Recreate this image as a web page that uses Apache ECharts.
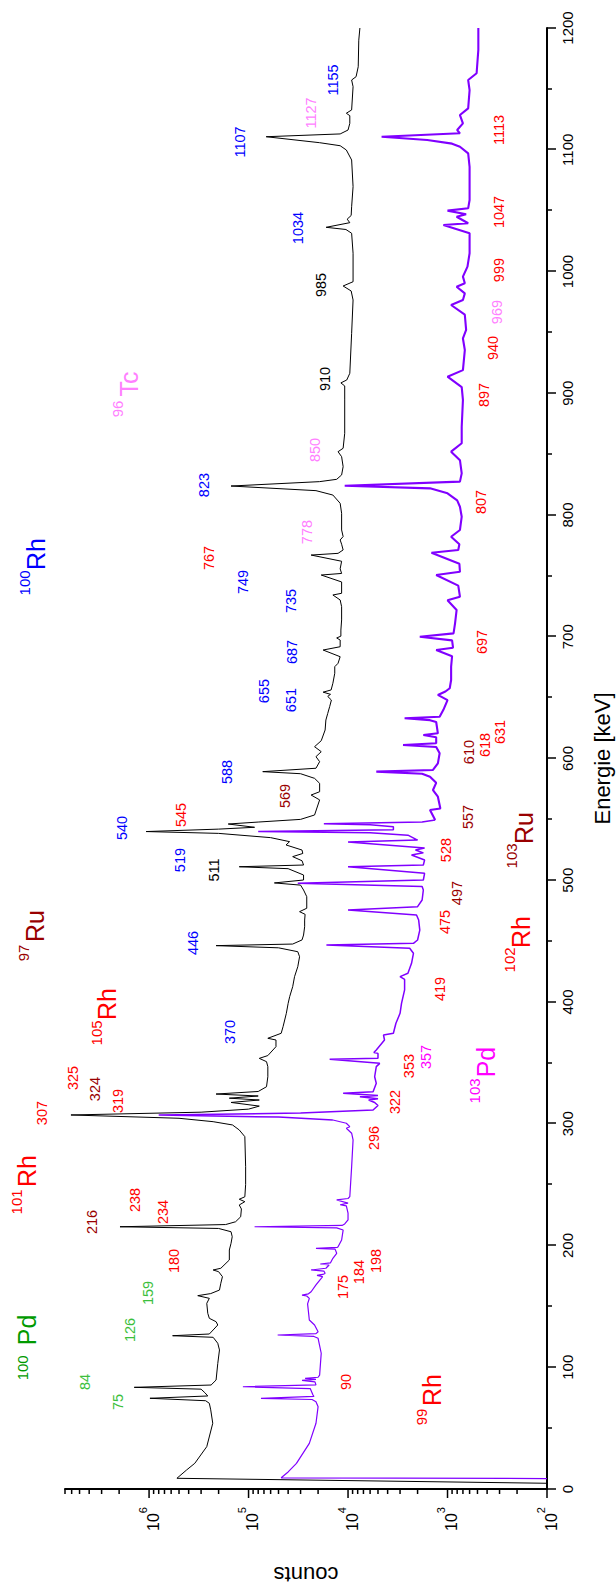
<!DOCTYPE html>
<html><head><meta charset="utf-8">
<script src="https://cdn.jsdelivr.net/npm/echarts@6/dist/echarts.min.js"></script>
<style>
html,body{margin:0;padding:0;width:616px;height:1590px;overflow:hidden;background:#fff;}
#chart{position:absolute;left:0;top:0;width:1590px;height:616px;transform-origin:0 0;transform:translate(0px,1590px) rotate(-90deg);}
</style></head><body><div id="chart"></div>
<script>
// ---- data: [energy keV, counts] ----
const blackSpectrum = [
[4.7,100],[8.8,525000],[15.6,420000],[21.1,347000],[34.8,263000],[54,229000],[65,240000],[70.4,248000],[72.5,270000],
[74.5,980000],[76.4,257000],[79.1,275000],[82,300000],[83.5,1410000],[85.4,238000],[89.5,212000],[103,204000],[114.2,196000],
[119.7,204000],[124.6,227000],[125.9,580000],[127.3,248000],[130.6,227000],[134.7,204000],[137.4,212000],[140.2,248000],
[144.3,257000],[152.5,263000],[156.6,248000],[158.8,324000],[160.5,240000],[163.4,196000],[169,190000],[174.4,183000],
[178.5,200000],[179.9,227000],[181.3,190000],[188.1,156000],[196.3,156000],[201.8,150000],[207.2,146000],[211.3,150000],
[214,200000],[215.4,1960000],[217.2,170000],[219.5,135000],[223.6,120000],[230,118000],[233.3,124000],[236,109000],
[238,124000],[240,109000],[250,107000],[264.7,107000],[289.4,109000],[294.9,124000],[299,145000],[301.7,227000],
[304.5,500000],[307.2,6100000],[309.5,300000],[312,100000],[314.5,78000],[317.5,150000],[319.5,78000],[321,156000],
[322.8,80000],[324.4,212000],[326.5,80000],[330.4,66000],[338.6,64000],[346.9,64000],[351,66000],[353.7,78000],[356,64000],
[363.3,53000],[368.8,53000],[370.2,64000],[374.3,47000],[379.7,45000],[390.7,41700],[398.9,40000],[404.4,38600],
[412.6,36000],[420.8,34500],[429,32000],[437.2,30700],[441.3,32000],[444.5,50000],[446.3,212000],[447.6,36000],[451,29000],
[455,28000],[461.8,27300],[467.3,27300],[472,27000],[474.2,30700],[477,26000],[486.5,26000],[492,28000],[496,30000],
[497.8,55000],[500.2,28000],[504.3,28000],[509.5,40000],[511.1,124000],[512.5,28000],[516,29000],[519.4,36000],[522,28500],
[524.8,29000],[529,42000],[531.7,38700],[535,60000],[538.5,200000],[540,1070000],[542,200000],[543.5,87000],[546.2,160000],
[547.8,80000],[550,30000],[553.6,21700],[566,19300],[570,23500],[572.7,19300],[579.6,19300],[583.7,21700],[587.5,30000],
[589.2,72000],[592,21000],[597.4,19300],[601.5,21000],[605.6,18600],[609.7,21700],[614.6,18600],[623.4,17000],[631.6,16700],
[637,16000],[642.6,15300],[648,14700],[651,16000],[652.7,15000],[654.5,17800],[656.3,14800],[661.8,14200],[670,13600],
[675.4,13600],[678.2,12600],[683.6,12000],[689.1,17800],[691.8,12000],[697.3,12000],[699,13000],[700.5,11800],[705.5,11800],
[713.8,11600],[724.7,11600],[730.2,12000],[734.3,14200],[735.7,11600],[745,11600],[750.7,18600],[752,11600],[755.8,12000],
[762,11600],[767.1,23500],[768.5,12600],[771.3,11200],[776,11600],[779.5,12000],[782.3,11200],[787.7,11600],[801.4,11600],
[809.6,12000],[816.4,14200],[820,21000],[823.8,150000],[827.4,19300],[829.3,13000],[832.9,11600],[839.7,11200],[847.9,11600],
[852,12600],[854.8,11200],[867.1,10800],[894.5,10800],[906,10800],[908.5,11800],[910.9,10300],[916.4,9600],[949.2,9200],
[976.6,8900],[984,9300],[988.1,11200],[991.6,8900],[1015,8900],[1031.4,9200],[1034.5,10500],[1036.3,16600],[1040.1,9600],
[1043,10200],[1046,9300],[1053.2,9200],[1069.7,8900],[1091.6,9200],[1099.8,10400],[1103.3,12000],[1105.8,19300],
[1110.7,66500],[1113,12000],[1116.2,10000],[1121.7,9600],[1128,9600],[1130,10400],[1132.7,9200],[1151.8,8900],[1157.3,9200],
[1160,8300],[1168.2,7900],[1190,7800],[1200,7600]
];
const purpleSpectrum = [
[8.6,100],[9.2,47000],[14,40000],[21.1,33000],[37.5,24500],[54,21000],[67.6,20000],[71.7,21000],[73.5,23000],[74.5,75000],
[76,22000],[77.2,22500],[82.5,24000],[84,114000],[85.5,21000],[88,21500],[89.2,29000],[90,21000],[90.8,27000],[91.8,20000],
[93.6,19300],[111.5,18600],[123.8,20000],[125.3,22000],[126.5,51000],[127.6,21000],[129.2,20000],[134.7,21700],[138.8,24500],
[145.6,25000],[152,25500],[156.6,24500],[158.5,26000],[159.3,29000],[160.3,25000],[162,23500],[167.6,21000],[173,18600],
[174.5,18000],[175.5,20500],[176.5,17500],[177.2,17000],[179,17500],[179.9,23500],[181.3,16700],[184,15500],[184.8,19000],
[185.8,15000],[189.5,14200],[193.6,13000],[197,13500],[197.7,21000],[198.5,12800],[199,12600],[204.5,11600],[212.7,11200],
[214.5,13000],[215.4,87000],[216.5,11500],[217.7,10800],[221,10000],[226.5,10000],[232.5,10400],[233.5,12000],[234.8,10000],
[237.4,13000],[238.6,10000],[240.1,9600],[264.7,9200],[286.7,8900],[292.2,9200],[296.3,10400],[297.6,9600],[300.4,10400],
[303.1,14200],[305.5,50000],[307.2,800000],[308.8,30000],[311.3,5600],[315,5000],[317.5,5400],[319.5,6200],[320.5,5000],
[322.2,7600],[323.3,5000],[325,11200],[326.3,5600],[333.2,5200],[338.6,5400],[346.9,5200],[349.6,4800],[352.9,15300],
[353.9,5000],[357.8,5000],[358.5,5500],[360.6,5200],[368.8,4300],[372.9,4400],[374.3,3500],[378.4,3400],[382.5,3300],
[390.7,3000],[398.9,2900],[409.9,2700],[418.5,2700],[420.8,3000],[423.6,2500],[431.8,2300],[440,2200],[444.1,2400],
[446.8,16500],[448.2,2200],[450.9,2000],[459.1,1900],[467.3,1950],[471.5,2050],[475.6,10000],[478.3,2000],[483.8,1800],
[492,1750],[494.8,1800],[497.5,32000],[500.2,1750],[505.7,1700],[511.1,10000],[512.5,1750],[516.6,1700],[520.7,2300],
[522.5,1750],[524.8,2100],[526.5,1700],[531.5,10000],[533,2000],[537,2500],[539,6000],[540,80000],[541.5,3500],[544,3500],
[545.5,6000],[546.5,17500],[547.8,1800],[549.5,1330],[557.7,1500],[559,1180],[568.6,1250],[574.1,1400],[580,1300],[585,1500],
[587.5,1800],[589.2,5200],[590.6,1400],[596,1250],[604.3,1200],[609.5,1300],[611.1,2800],[612.5,1300],[617.5,1300],
[619.3,1750],[620.7,1250],[630,1300],[631.5,1500],[633,2700],[634.3,1200],[640,1100],[648,1000],[652.2,1250],[655,1050],
[657.7,950],[664.5,920],[675.4,920],[684,900],[689.1,1300],[691,880],[697,900],[700,1900],[702.8,870],[711,840],[722,810],
[730,1000],[732.9,750],[742,780],[750.7,1300],[753.4,750],[760,760],[769,1450],[771.3,780],[776,760],[782.1,920],[787.7,750],
[798.6,720],[806.8,750],[812,800],[817.8,1000],[821.9,1500],[824,10800],[827.4,750],[834.2,720],[845,750],[852,920],
[858.9,720],[872.5,720],[894.5,700],[905,720],[913.6,1000],[919,700],[935.5,670],[945,700],[952,650],[964.5,670],[972.5,920],
[976.6,700],[982,670],[987.5,810],[990.3,670],[995.8,700],[1004,630],[1015,600],[1031.4,600],[1038.2,1100],[1039.6,620],
[1045,810],[1047,650],[1050,1000],[1051.9,620],[1058.7,600],[1086,600],[1097,620],[1102.5,750],[1105,900],[1108,1600],
[1110.7,4600],[1113.5,750],[1116.2,800],[1121.7,700],[1128.5,750],[1134,620],[1149,600],[1157.3,620],[1162.8,510],
[1182,490],[1200,490]
];

// peak annotations
const peakText = ['1155','1127','1107','1034','985','910','850','823','767','778','749','735','687','655','651','588','569',
 '545','540','519','511','446','370','325','324','319','307','296','238','234','216','180','159','126','84','75',
 '175','184','198','90','322','353','357','419','475','497','528','557','610','618','631','697','807','897','940','969',
 '999','1047','1113'];
const peakE = [1157.3,1130.2,1106.4,1035.7,988.9,911.7,853.4,824.6,764.7,786,745,729.4,687.5,655.4,648,588.9,569.2,
 553.6,542.9,516.6,508.4,448.5,375.4,337.6,328.5,318.7,308.8,288.3,237.4,227.5,219.3,187.3,161,130.6,87.9,71.5,
 165.9,178.2,187.3,87.9,317.9,347.4,354.8,410.7,465.7,489.5,524.8,552,605.3,611.1,621.8,695.7,810.7,898.6,937.2,966.7,
 1001.2,1048.9,1116.2];
const peakC = [1.43e4,2.38e4,1.21e5,3.22e4,1.89e4,1.72e4,2.17e4,2.78e5,2.48e5,2.61e4,1.15e5,3.78e4,3.7e4,6.92e4,3.78e4,1.63e5,4.35e4,
 4.74e5,1.86e6,4.85e5,2.2e5,3.59e5,1.52e5,5.79e6,3.48e6,2.04e6,1.19e7,5.52e3,1.38e6,7.19e5,3.73e6,5.57e5,1.02e6,1.55e6,4.39e6,2.04e6,
 1.13e4,7.82e3,5.27e3,1.06e4,3.4e3,2.45e3,1.66e3,1.2e3,1.06e3,806,1.04e3,625,610,421,297,452,462,431,350,319,
 304,304,304];
const peakGroup = ['blue','pink','blue','blue','black','black','pink','blue','red','pink','blue','blue','blue','blue','blue','blue','dkred',
 'red','blue','blue','black','blue','blue','red','dkred','red','red','red','red','red','dkred','red','green','green','green','green',
 'red','red','red','red','red','red','mag','red','red','dkred','red','dkred','dkred','red','red','red','red','red','red','pink',
 'red','red','red'];

// isotope names
const isoMass = ['100','101','105','97','100','96','99','103','102','103'];
const isoSym  = ['Pd','Rh','Rh','Ru','Rh','Tc','Rh','Pd','Rh','Ru'];
const isoGroup = ['dkgreen','red','red','dkred','blue','pink','red','mag','red','dkred'];
const isoSymE = [130.6,261.2,398.4,462.4,768,907.6,81.3,350.7,457.5,542.9];
const isoSymC = [1.69e7,1.69e7,2.64e6,1.40e7,1.37e7,1.58e6,1.44e3,411,183,171];
const isoMassE = [99.5,235.8,374.6,440.3,744.2,887.1,59.2,327,434.6,520];
const isoMassC = [1.89e7,2.17e7,3.40e6,1.81e7,1.77e7,2.09e6,1.82e3,531,236,225];

// counts axis ticks (log decades and their sub-divisions)
const countMajorTicks = [1e2,1e3,1e4,1e5,1e6];
const countMinorTicks = [2e2,3e2,4e2,5e2,6e2,7e2,8e2,9e2,2e3,3e3,4e3,5e3,6e3,7e3,8e3,9e3,2e4,3e4,4e4,5e4,6e4,7e4,8e4,9e4,
 2e5,3e5,4e5,5e5,6e5,7e5,8e5,9e5,2e6,3e6,4e6,5e6,6e6,7e6];

// ---- styles ----
const FONT = '"Liberation Sans", Arial, Helvetica, sans-serif';
const groupColor = {red:'#ff0000', dkred:'#990000', blue:'#0000ff', pink:'#ff80ff', mag:'#ff00ff', green:'#3cbf3c', dkgreen:'#009a00', black:'#000000'};

function textSeries(texts, es, cs, groups, size) {
  return {
    type:'custom', silent:true, clip:false, z:5,
    data: texts.map((t,i)=>[es[i], cs[i], i]),
    encode:{x:0, y:1},
    renderItem:function(params, api){
      const i = api.value(2);
      const p = api.coord([api.value(0), api.value(1)]);
      return {type:'text', x:p[0], y:p[1], style:{text:texts[i], fill:groupColor[groups[i]], fontSize:size, fontFamily:FONT, align:'center', verticalAlign:'middle'}};
    }
  };
}
function tickSeries(vals, len) {
  return {
    type:'custom', silent:true, clip:false, z:4,
    data: vals.map(v=>[0, v]),
    encode:{x:0, y:1},
    renderItem:function(params, api){
      const p = api.coord([0, api.value(1)]);
      return {type:'line', shape:{x1:p[0], y1:p[1], x2:p[0]-len, y2:p[1]}, style:{stroke:'#000', lineWidth:1.5}};
    }
  };
}
function lineSeries(data, color, width) {
  return {type:'line', data:data, showSymbol:false, symbol:'none', lineStyle:{color:color, width:width}, silent:true};
}

const chart = echarts.init(document.getElementById('chart'), null, {renderer:'svg', width:1590, height:616});
chart.setOption({
  animation:false,
  backgroundColor:'#ffffff',
  grid:{left:101, right:28, top:65, bottom:69, containLabel:false, outerBoundsMode:'none'},
  xAxis:{
    type:'value', min:0, max:1200, interval:100,
    axisLine:{show:true, onZero:false, lineStyle:{color:'#000', width:2}},
    axisTick:{show:true, length:9, lineStyle:{color:'#000', width:1.5}},
    minorTick:{show:true, splitNumber:2, length:5, lineStyle:{color:'#000', width:1.5}},
    axisLabel:{color:'#000', fontSize:15, fontFamily:FONT, margin:13, formatter:function(v){ return String(v); }},
    splitLine:{show:false}, minorSplitLine:{show:false},
    name:'Energie [keV]', nameLocation:'middle', nameGap:44, nameMoveOverlap:false,
    nameTextStyle:{color:'#000', fontSize:22, fontFamily:FONT}
  },
  yAxis:{
    type:'log', logBase:10, min:100, max:7e6,
    axisLine:{show:true, onZero:false, lineStyle:{color:'#000', width:2}},
    axisTick:{show:false},
    axisLabel:{
      margin:18, color:'#000', fontFamily:FONT,
      formatter:function(v){ const l=Math.log10(v), e=Math.round(l); return Math.abs(l-e)<1e-6 ? '{b|10}{s|'+e+'}' : ''; },
      rich:{ b:{fontSize:16, lineHeight:24, verticalAlign:'bottom', color:'#000', fontFamily:FONT},
             s:{fontSize:11, lineHeight:11, verticalAlign:'top', color:'#000', fontFamily:FONT} }
    },
    splitLine:{show:false},
    name:'counts', nameLocation:'middle', nameGap:74, nameRotate:90, nameMoveOverlap:false,
    nameTextStyle:{color:'#000', fontSize:22, fontFamily:FONT}
  },
  series:[
    Object.assign(lineSeries(blackSpectrum, '#000000', 1), {z:3}),
    Object.assign(lineSeries(purpleSpectrum.filter(p=>p[0]<=303.1), '#8000ff', 1.2), {z:2}),
    Object.assign(lineSeries(purpleSpectrum.filter(p=>p[0]>=303.1 && p[0]<=549.5), '#8000ff', 1.5), {z:2}),
    Object.assign(lineSeries(purpleSpectrum.filter(p=>p[0]>=549.5), '#8000ff', 2.1), {z:2}),
    tickSeries(countMajorTicks, 9),
    tickSeries(countMinorTicks, 5),
    textSeries(peakText, peakE, peakC, peakGroup, 14.5),
    textSeries(isoSym, isoSymE, isoSymC, isoGroup, 25),
    textSeries(isoMass, isoMassE, isoMassC, isoGroup, 15)
  ]
});
</script></body></html>
